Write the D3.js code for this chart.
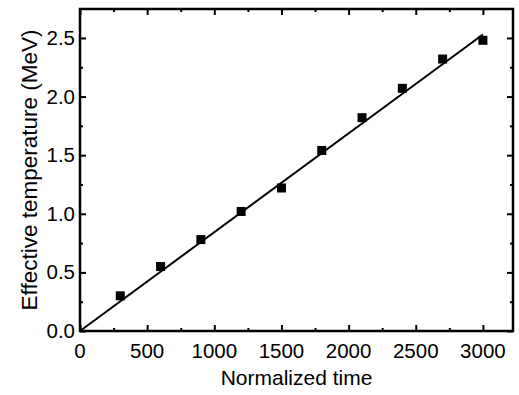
<!DOCTYPE html>
<html>
<head>
<meta charset="utf-8">
<script src="https://cdn.jsdelivr.net/npm/d3@7"></script>
<style>
  body { margin: 0; background: #fff; }
  text { font-family: "Liberation Sans", Arial, sans-serif; fill: #000; }
</style>
</head>
<body>
<svg id="chart" width="519" height="395"></svg>
<script>
// DATA
// ========================================================================
var time_values = [300, 600, 900, 1200, 1500, 1800, 2100, 2400, 2700, 3000];
var temp_values = [0.30, 0.55, 0.78, 1.02, 1.22, 1.54, 1.82, 2.07, 2.32, 2.48];

var fit_x = [0, 3000];
var fit_y = [0, 2.53];

var x_ticks = [0, 500, 1000, 1500, 2000, 2500, 3000];
var y_ticks = [0.0, 0.5, 1.0, 1.5, 2.0, 2.5];
var x_minor = [250, 750, 1250, 1750, 2250, 2750];
var y_minor = [0.25, 0.75, 1.25, 1.75, 2.25];
// ========================================================================

var margin = {left: 80, top: 9, right: 6, bottom: 64};
var width = 519 - margin.left - margin.right;
var height = 395 - margin.top - margin.bottom;

var svg = d3.select("#chart");
var g = svg.append("g")
            .attr("transform", "translate(" + margin.left + "," + margin.top + ")");

var x = d3.scaleLinear().domain([0, 3224]).range([0, width]);
var y = d3.scaleLinear().domain([0, 2.747]).range([height, 0]);

// ticks inward on all four sides
function drawTicks(axis_fn, scale, values, len, transform) {
  var ax = g.append("g").attr("transform", transform)
            .call(axis_fn(scale).tickValues(values).tickSize(len).tickFormat(""));
  ax.select(".domain").remove();
  ax.selectAll(".tick line").attr("stroke", "#000").attr("stroke-width", 2);
  return ax;
}

drawTicks(d3.axisTop, x, x_ticks, 6, "translate(0," + height + ")");
drawTicks(d3.axisTop, x, x_minor, 3, "translate(0," + height + ")");
drawTicks(d3.axisBottom, x, x_ticks, 6, "translate(0,0)");
drawTicks(d3.axisBottom, x, x_minor, 3, "translate(0,0)");
drawTicks(d3.axisRight, y, y_ticks, 6, "translate(0,0)");
drawTicks(d3.axisRight, y, y_minor, 3, "translate(0,0)");
drawTicks(d3.axisLeft, y, y_ticks, 6, "translate(" + width + ",0)");
drawTicks(d3.axisLeft, y, y_minor, 3, "translate(" + width + ",0)");

// frame
g.append("rect")
  .attr("width", width)
  .attr("height", height)
  .attr("fill", "none")
  .attr("stroke", "#000")
  .attr("stroke-width", 2.5);

// tick labels
g.selectAll(".xlabel")
  .data(x_ticks).enter()
  .append("text")
    .attr("class", "xlabel")
    .attr("x", function(d) { return x(d); })
    .attr("y", height + 27)
    .attr("text-anchor", "middle")
    .style("font-size", "20.5px")
    .text(function(d) { return d; });

g.selectAll(".ylabel")
  .data(y_ticks).enter()
  .append("text")
    .attr("class", "ylabel")
    .attr("x", -5)
    .attr("y", function(d) { return y(d) + 7; })
    .attr("text-anchor", "end")
    .style("font-size", "20.5px")
    .text(function(d) { return d.toFixed(1); });

// axis titles
svg.append("text")
  .attr("x", margin.left + width / 2)
  .attr("y", 385)
  .attr("text-anchor", "middle")
  .style("font-size", "21px")
  .text("Normalized time");

svg.append("text")
  .attr("transform", "translate(37," + (margin.top + height / 2) + ") rotate(-90)")
  .attr("text-anchor", "middle")
  .style("font-size", "22.5px")
  .text("Effective temperature (MeV)");

// fit line
var fit_points = fit_x.map(function(d, i) { return [d, fit_y[i]]; });
g.append("path")
  .datum(fit_points)
  .attr("fill", "none")
  .attr("stroke", "#000")
  .attr("stroke-width", 2)
  .attr("d", d3.line()
                .x(function(d) { return x(d[0]); })
                .y(function(d) { return y(d[1]); }));

// data points
var s = 9;
g.selectAll(".point")
  .data(time_values).enter()
  .append("rect")
    .attr("class", "point")
    .attr("x", function(d) { return x(d) - s / 2; })
    .attr("y", function(d, i) { return y(temp_values[i]) - s / 2; })
    .attr("width", s)
    .attr("height", s)
    .attr("fill", "#000");
</script>
</body>
</html>
